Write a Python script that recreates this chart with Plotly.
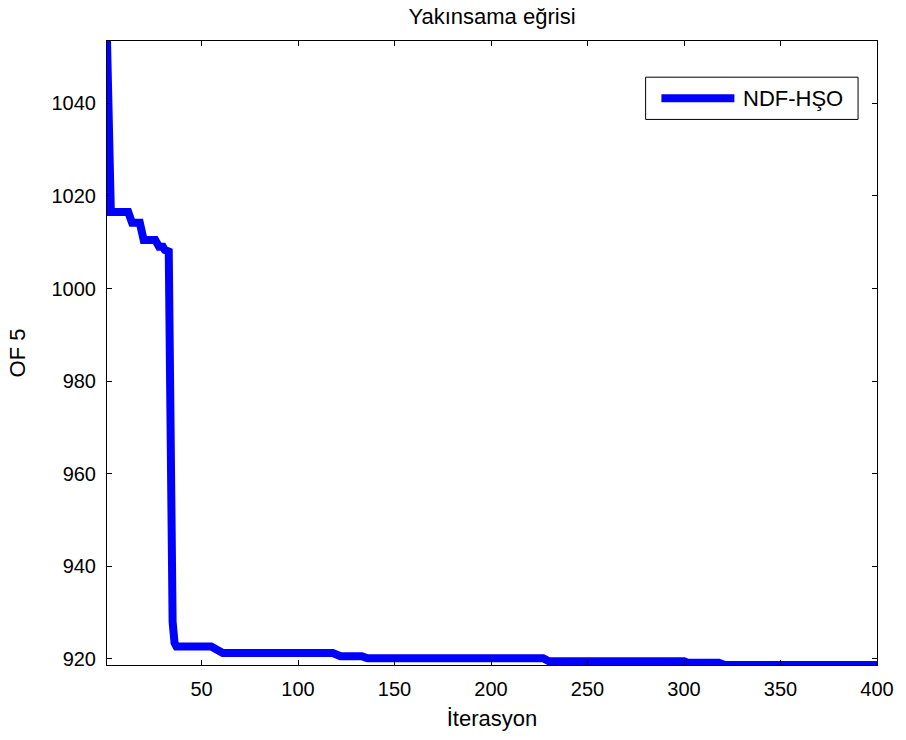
import plotly.graph_objects as go

# Convergence curve breakpoints (iteration, objective value)
iterasyon = [1, 2, 3, 12, 14, 18, 20, 26, 28, 30, 31, 33, 34, 35, 36, 37,
             55, 61, 118, 122, 133, 136, 227, 230, 300, 302, 318, 321, 400]
of5 = [1053.45, 1030.0, 1016.5, 1016.5, 1014.2, 1014.2, 1010.5, 1010.5,
       1009.0, 1009.0, 1008.3, 1008.0, 935.0, 928.0, 923.5, 922.7,
       922.7, 921.3, 921.3, 920.6, 920.6, 920.15, 920.15, 919.5, 919.5,
       919.2, 919.2, 918.7, 918.7]

x_ticks = [50, 100, 150, 200, 250, 300, 350, 400]
y_ticks = [920, 940, 960, 980, 1000, 1020, 1040]

series_name = "NDF-HŞO"
title_text = "Yakınsama eğrisi"
x_label = "İterasyon"
y_label = "OF 5"

FONT = "Arial, Liberation Sans, sans-serif"
BLUE = "#0000FF"

fig = go.Figure()
fig.add_trace(go.Scatter(
    x=iterasyon, y=of5, mode="lines", name=series_name,
    line=dict(color=BLUE, width=8), showlegend=False,
))

axis_common = dict(
    showline=True, linecolor="black", linewidth=1, mirror="ticks",
    ticks="inside", ticklen=5, tickcolor="black", tickwidth=1,
    showgrid=False, zeroline=False,
    tickfont=dict(family=FONT, size=20, color="black"),
)

fig.update_xaxes(
    range=[min(iterasyon), max(iterasyon)], tickvals=x_ticks,
    title=dict(text=x_label, font=dict(family=FONT, size=22, color="black"), standoff=11),
    ticklabelstandoff=6, **axis_common,
)
fig.update_yaxes(
    range=[min(of5), max(of5)], tickvals=y_ticks,
    title=dict(text=y_label, font=dict(family=FONT, size=22, color="black"), standoff=19),
    ticklabelstandoff=6, **axis_common,
)

# Legend box drawn in paper coordinates
lx0, lx1, ly0, ly1 = 0.6995, 0.9754, 0.8743, 0.9420
fig.add_shape(type="rect", xref="paper", yref="paper",
              x0=lx0, x1=lx1, y0=ly0, y1=ly1,
              line=dict(color="black", width=1), fillcolor="white", layer="above")
ly_mid = (ly0 + ly1) / 2
fig.add_shape(type="line", xref="paper", yref="paper",
              x0=0.7200, x1=0.8148, y0=ly_mid, y1=ly_mid,
              line=dict(color=BLUE, width=8), layer="above")
fig.add_annotation(xref="paper", yref="paper", x=0.8230, y=ly_mid,
                   xanchor="left", yanchor="middle", showarrow=False,
                   text=series_name, font=dict(family=FONT, size=22, color="black"))

fig.update_layout(
    width=906, height=740,
    margin=dict(l=107, r=27, t=41, b=75),
    paper_bgcolor="white", plot_bgcolor="white",
    title=dict(text=title_text, x=0.5, xref="paper", y=1 - 16 / 740,
               yanchor="middle", font=dict(family=FONT, size=22, color="black")),
    showlegend=False,
)

fig.write_html("out.html")
